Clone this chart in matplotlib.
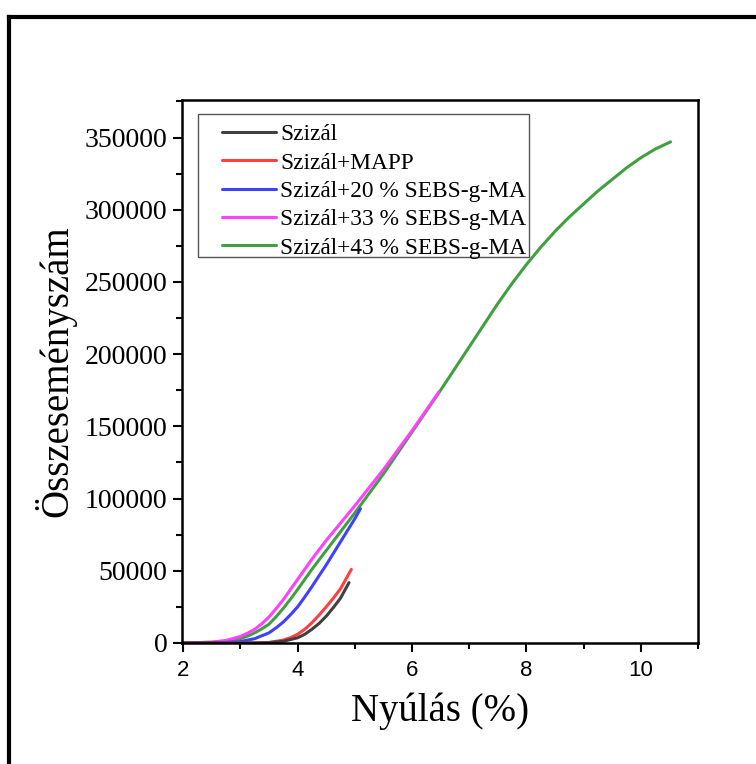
import numpy as np
import matplotlib
matplotlib.use("Agg")
import matplotlib.pyplot as plt
from matplotlib.lines import Line2D
from matplotlib.patches import Rectangle
from matplotlib.ticker import MultipleLocator

# Nyúlás (%) and Összeseményszám
x_szizal = [2.0, 3.0, 3.25, 3.5, 3.75, 4.0, 4.125, 4.25, 4.375, 4.5, 4.625, 4.75, 4.9]
y_szizal = [0, 0, 50, 200, 1200, 3600, 6000, 9500, 13500, 18500, 24500, 31000, 41800]

x_mapp = [2.0, 3.0, 3.25, 3.5, 3.75, 3.875, 4.0, 4.125, 4.25, 4.375, 4.5, 4.625, 4.75, 4.94]
y_mapp = [0, 0, 100, 400, 2000, 3700, 6000, 9500, 14000, 19300, 25000, 31000, 37500, 51000]

x_sebs20 = [2.0, 2.5, 2.75, 3.0, 3.25, 3.5, 3.625, 3.75, 3.875, 4.0, 4.125, 4.25, 4.375,
            4.5, 4.625, 4.75, 4.875, 5.0, 5.1]
y_sebs20 = [0, 100, 400, 1000, 3000, 7000, 10500, 14500, 19500, 25000, 31800, 39000, 46500,
            54000, 62000, 70000, 78000, 86000, 93000]

x_sebs33 = [2.0, 2.5, 2.75, 3.0, 3.125, 3.25, 3.375, 3.5, 3.625, 3.75, 3.875, 4.0, 4.25,
            4.5, 4.75, 5.0, 5.5, 6.0, 6.47]
y_sebs33 = [0, 600, 1800, 4500, 6800, 9500, 13300, 18000, 23800, 30000, 37000, 44000, 58000,
            71000, 83000, 95000, 120000, 147000, 173800]

x_sebs43 = [2.0, 2.5, 2.75, 3.0, 3.125, 3.25, 3.375, 3.5, 3.625, 3.75, 3.875, 4.0, 4.25,
            4.5, 4.75, 5.0, 5.5, 6.0, 6.5, 7.0, 7.5, 7.75, 8.0, 8.25, 8.5, 8.75, 9.0,
            9.25, 9.5, 9.75, 10.0, 10.25, 10.52]
y_sebs43 = [0, 500, 1300, 3000, 4800, 7000, 9800, 13000, 18200, 24000, 30300, 37000, 51000,
            64000, 77000, 90000, 117000, 146000, 175000, 205000, 235000, 249000, 262000,
            274000, 285000, 295000, 304000, 313000, 321000, 329000, 336000, 342000, 347000]

labels = ["Szizál", "Szizál+MAPP", "Szizál+20 % SEBS-g-MA",
          "Szizál+33 % SEBS-g-MA", "Szizál+43 % SEBS-g-MA"]
colors = ["#404040", "#ff4040", "#4040ff", "#ff40ff", "#40a040"]

serif = "Liberation Serif"
sans = "Liberation Sans"

W, H = 756, 764
fig = plt.figure(figsize=(W / 100, H / 100), dpi=100)
ax = fig.add_axes([182 / W, 1 - 643 / H, (698 - 182) / W, (643 - 100) / H])

series = [(x_szizal, y_szizal), (x_mapp, y_mapp), (x_sebs20, y_sebs20),
          (x_sebs33, y_sebs33), (x_sebs43, y_sebs43)]
# draw in reverse so the black curve sits on top like in the original
for (xs, ys), lab, c in reversed(list(zip(series, labels, colors))):
    ax.plot(xs, ys, color=c, lw=2.2, label=lab, solid_capstyle="round",
            solid_joinstyle="round")

ax.set_xlim(1.98, 11.0)
ax.set_ylim(0, 376000)
ax.xaxis.set_major_locator(MultipleLocator(2))
ax.xaxis.set_minor_locator(MultipleLocator(1))
ax.yaxis.set_major_locator(MultipleLocator(50000))
ax.yaxis.set_minor_locator(MultipleLocator(25000))

for s in ax.spines.values():
    s.set_linewidth(1.8)

ax.tick_params(axis="both", which="major", direction="out", length=6.5, width=1.5)
ax.tick_params(axis="both", which="minor", direction="out", length=4, width=1.5)

ax.tick_params(axis="x", labelsize=16, pad=6)
ax.tick_params(axis="y", labelsize=20, pad=4)
for lab in ax.get_xticklabels():
    lab.set_fontfamily(sans)
for lab in ax.get_yticklabels():
    lab.set_fontfamily(serif)

ax.set_xlabel("Nyúlás (%)", fontsize=28, fontfamily=serif, labelpad=8)
ax.set_ylabel("Összeseményszám", fontsize=28, fontfamily=serif, labelpad=6)

handles, labs = ax.get_legend_handles_labels()
leg = ax.legend(handles[::-1], labs[::-1], loc="upper left",
                bbox_to_anchor=(0.0775, 0.956), borderaxespad=0,
                prop={"family": serif, "size": 16.8}, frameon=False,
                handlelength=2.3, handletextpad=0.2,
                labelspacing=0.3, borderpad=0)
for ln in leg.get_lines():
    ln.set_linewidth(2.2)

# legend box drawn separately (tight on the right like the original)
ax.add_patch(Rectangle((0.031, 0.711), 0.6415, 0.2634, transform=ax.transAxes,
                       fill=False, edgecolor="#555555", lw=1.0, zorder=4))

# thick page frame on the left and top edges
fig.add_artist(Line2D([9 / W, 9 / W], [0, 1 - 17 / H], transform=fig.transFigure,
                      color="black", lw=3))
fig.add_artist(Line2D([9 / W, 1], [1 - 17 / H, 1 - 17 / H], transform=fig.transFigure,
                      color="black", lw=3))

fig.savefig("out.png", dpi=100)
